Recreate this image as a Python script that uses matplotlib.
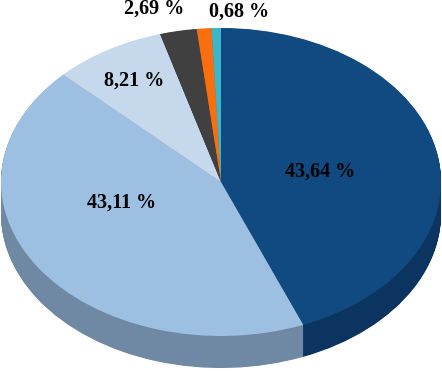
import matplotlib.pyplot as plt

# slice shares as labelled in the chart (orange one has no label)
values = [43.64, 43.11, 8.21, 2.69, 1.07, 0.68]
top_colors = ["#104a80", "#9dc0e2", "#c5d8ec", "#404040", "#f96f10", "#3fb6c8"]
side_colors = ["#0b3560", "#6f88a3", "#8c99a8", "#2d2d2d", "#b04f0b", "#2c808d"]
labels = ["43,64 %", "43,11 %", "8,21 %", "2,69 %", "0,68 %"]
label_x = [320, 122, 134, 154, 239]
label_y = [172, 203, 81, 9, 12]

W, H = 442, 371
CX, CY = 221, 182  # ellipse centre in pixels
RX, RY = 220, 154
DEPTH = 32

fig = plt.figure(figsize=(W / 100, H / 100), dpi=100)
ax = fig.add_axes([0, 0, 1, 1])

# the side wall is a stack of darker pies, half a pixel apart
for d in range(DEPTH * 2, 0, -1):
    ax.pie(values, colors=side_colors, startangle=90, counterclock=False,
           center=(0, -d / 2 / RY), wedgeprops={"linewidth": 0})

ax.pie(values, colors=top_colors, startangle=90, counterclock=False,
       center=(0, 0), wedgeprops={"linewidth": 0})

# pie() forces equal aspect, the tilt needs it squashed
ax.set_aspect("auto")
ax.set_xlim(-CX / RX, (W - CX) / RX)
ax.set_ylim((CY - H) / RY, CY / RY)
ax.axis("off")

for txt, x, y in zip(labels, label_x, label_y):
    fig.text(x / W, 1 - y / H, txt, ha="center", va="center", color="black",
             fontsize=14.5, fontweight="bold", family="Liberation Serif")

plt.savefig("out.png", dpi=100)
